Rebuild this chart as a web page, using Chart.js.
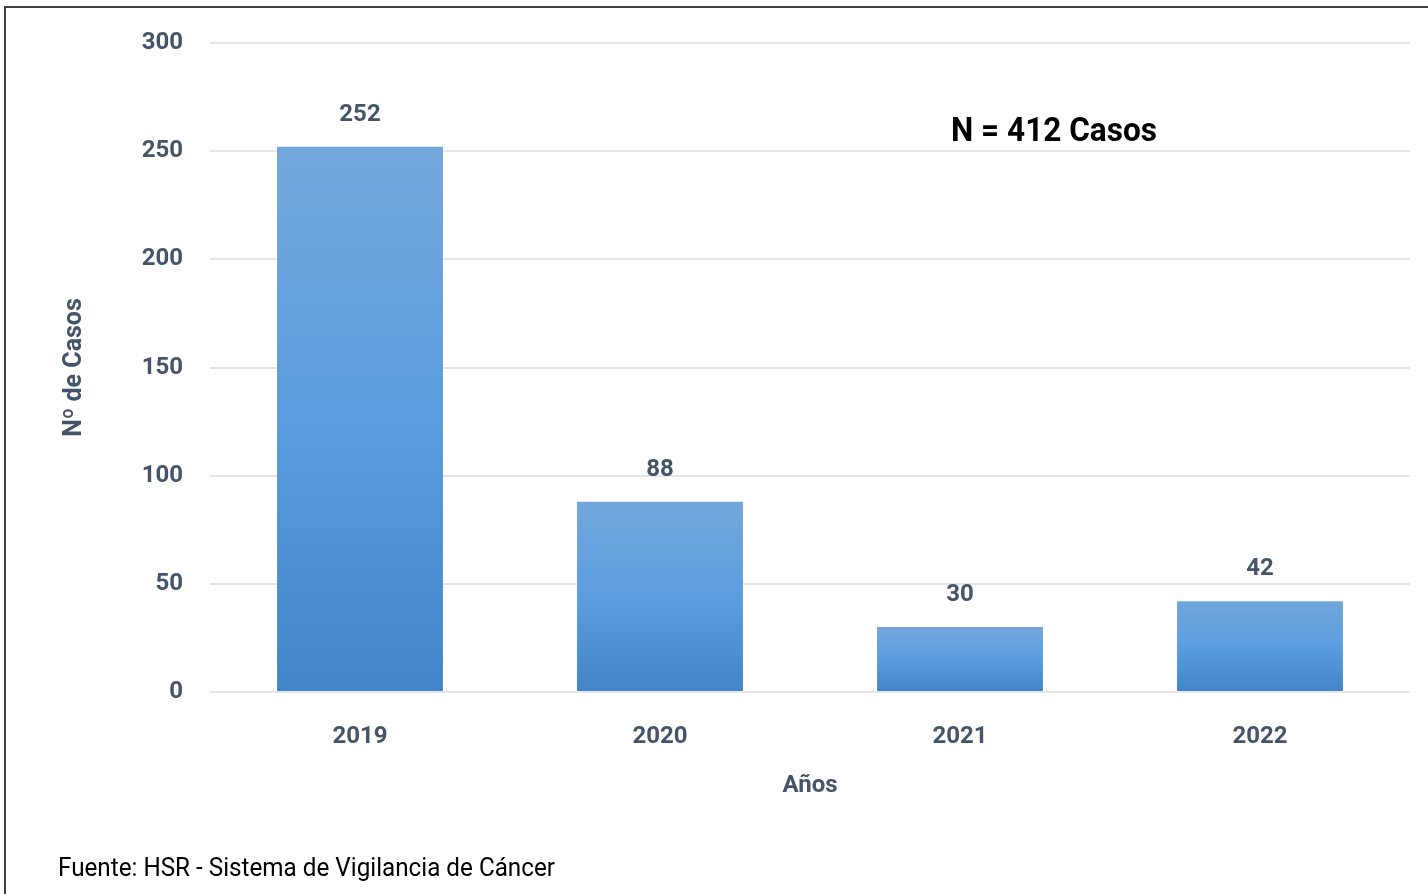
<!DOCTYPE html>
<html>
<head>
<meta charset="utf-8">
<script src="https://cdn.jsdelivr.net/npm/chart.js@4.4.1/dist/chart.umd.min.js"></script>
<style>
  html, body { margin: 0; padding: 0; background: #ffffff; }
  #wrap { width: 1428px; height: 894px; position: relative; }
</style>
</head>
<body>
<div id="wrap"><canvas id="c"></canvas></div>
<script>
// ---- data ----
const categories = ['2019', '2020', '2021', '2022'];
const casos = [252, 88, 30, 42];
const yMin = 0;
const yMax = 300;
const yStep = 50;
const xTitle = 'Años';
const yTitle = 'Nº de Casos';
const annotationText = 'N = 412 Casos';
const sourceText = 'Fuente: HSR - Sistema de Vigilancia de Cáncer';

const FONT = 'Roboto, "Liberation Sans", sans-serif';
const LABEL_COLOR = '#44546a';

function barGradient(context) {
  const chart = context.chart;
  const { ctx, chartArea } = chart;
  if (!chartArea) return '#5b9bd5';
  const yScale = chart.scales.y;
  const v = context.raw;
  const top = yScale.getPixelForValue(v);
  const bottom = yScale.getPixelForValue(0);
  const g = ctx.createLinearGradient(0, top, 0, bottom);
  g.addColorStop(0, '#73a7dc');
  g.addColorStop(0.5, '#5a9ddf');
  g.addColorStop(1, '#4386c7');
  return g;
}

const decorPlugin = {
  id: 'decor',
  beforeDraw(chart) {
    const ctx = chart.ctx;
    ctx.save();
    ctx.fillStyle = '#ffffff';
    ctx.fillRect(0, 0, chart.width, chart.height);
    ctx.restore();
  },
  afterDatasetsDraw(chart) {
    const ctx = chart.ctx;
    const meta = chart.getDatasetMeta(0);
    ctx.save();
    ctx.font = 'bold 24px ' + FONT;
    ctx.fillStyle = LABEL_COLOR;
    ctx.textAlign = 'center';
    ctx.textBaseline = 'middle';
    meta.data.forEach((bar, i) => {
      ctx.fillText(String(casos[i]), bar.x, bar.y - 32);
    });
    ctx.restore();
  },
  afterDraw(chart) {
    const ctx = chart.ctx;
    ctx.save();
    // outer frame
    ctx.strokeStyle = '#404040';
    ctx.lineWidth = 2;
    ctx.strokeRect(5, 7, 1440, 920);
    // annotation
    ctx.fillStyle = '#000000';
    ctx.font = 'bold 34px ' + FONT;
    ctx.textAlign = 'center';
    ctx.textBaseline = 'middle';
    ctx.fillText(annotationText, 1054, 132, 206);
    // source
    ctx.font = '25px ' + FONT;
    ctx.textAlign = 'left';
    ctx.fillText(sourceText, 58, 870, 497);
    ctx.restore();
  }
};

new Chart(document.getElementById('c'), {
  type: 'bar',
  data: {
    labels: categories,
    datasets: [{
      data: casos,
      backgroundColor: barGradient,
      borderWidth: 0,
      categoryPercentage: 1.0,
      barPercentage: 0.553
    }]
  },
  options: {
    responsive: true,
    maintainAspectRatio: false,
    animation: false,
    devicePixelRatio: 1,
    layout: { padding: { top: 43, right: 18, bottom: 92, left: 0 } },
    plugins: {
      legend: { display: false },
      tooltip: { enabled: false },
      title: { display: false }
    },
    scales: {
      x: {
        grid: { display: false, drawTicks: false },
        border: { display: false },
        ticks: {
          color: LABEL_COLOR,
          font: { family: FONT, size: 24, weight: 'bold' },
          padding: 31
        },
        title: {
          display: true,
          text: xTitle,
          color: LABEL_COLOR,
          font: { family: FONT, size: 24, weight: 'bold' },
          padding: { top: 0, bottom: 2 }
        },
        afterFit(scale) { scale.height = 110; }
      },
      y: {
        min: yMin,
        max: yMax,
        ticks: {
          stepSize: yStep,
          color: LABEL_COLOR,
          font: { family: FONT, size: 24, weight: 'bold' },
          padding: 27
        },
        grid: { color: '#e2e6ec', lineWidth: 2, drawTicks: false },
        border: { display: false },
        title: {
          display: true,
          text: yTitle,
          color: LABEL_COLOR,
          font: { family: FONT, size: 25, weight: 'bold' },
          padding: { top: 60, bottom: 0 }
        },
        afterFit(scale) { scale.width = 210; }
      }
    }
  },
  plugins: [decorPlugin]
});
</script>
</body>
</html>
